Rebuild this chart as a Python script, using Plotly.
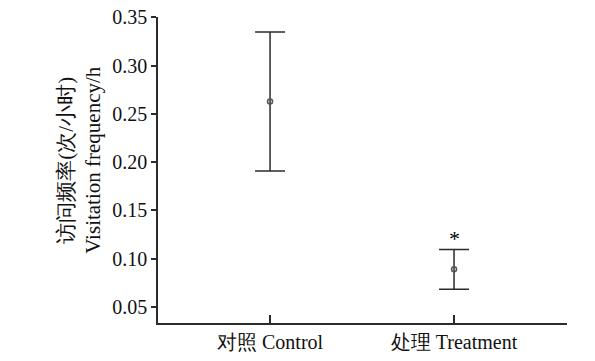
import plotly.graph_objects as go

categories = ["对照 Control", "处理 Treatment"]
means = [0.263, 0.089]
errors = [0.072, 0.0205]
sig_labels = ["", "*"]
y_ticks = [0.05, 0.10, 0.15, 0.20, 0.25, 0.30, 0.35]
y_tick_text = ["0.05", "0.10", "0.15", "0.20", "0.25", "0.30", "0.35"]

font_family = "Liberation Serif"
ink = "#2b2b2b"

x_idx = list(range(len(categories)))

fig = go.Figure()
fig.add_trace(go.Scatter(
    x=x_idx, y=means, mode="markers",
    marker=dict(symbol="circle-open", size=5, color="#555555", line=dict(width=1.5)),
    error_y=dict(type="data", array=errors, visible=True, width=15, thickness=1.5, color=ink),
    showlegend=False, hoverinfo="skip",
))

for i, lab in enumerate(sig_labels):
    if lab:
        fig.add_annotation(x=x_idx[i], y=means[i] + errors[i], text=lab, showarrow=False,
                           yanchor="bottom", yshift=-3, xref="x", yref="y",
                           font=dict(family=font_family, size=22, color="#000"))

fig.add_annotation(xref="paper", yref="paper", x=-0.191, y=0.533, xanchor="center", yanchor="middle",
                   textangle=-90, showarrow=False,
                   text="访问频率(次/小时)<br>Visitation frequency/h",
                   font=dict(family=font_family, size=21, color="#111"))

fig.update_layout(
    width=595, height=361,
    margin=dict(l=158, r=28, t=17, b=38, autoexpand=False),
    plot_bgcolor="white", paper_bgcolor="white",
    font=dict(family=font_family, size=20, color="#111"),
)
fig.update_xaxes(
    range=[-0.609, 1.614], tickmode="array", tickvals=x_idx, ticktext=categories,
    showline=True, linecolor=ink, linewidth=1.5, ticks="inside", ticklen=8, tickwidth=1.5,
    tickcolor=ink, showgrid=False, zeroline=False, mirror=False, automargin=False,
    ticklabeloverflow="allow",
)
fig.update_yaxes(
    range=[0.0334, 0.3505], tickmode="array", tickvals=y_ticks, ticktext=y_tick_text,
    showline=True, linecolor=ink, linewidth=1.5, ticks="outside", ticklen=5, tickwidth=1.5,
    tickcolor=ink, showgrid=False, zeroline=False, automargin=False,
    ticklabeloverflow="allow",
)

fig.write_html("out.html", config={"displayModeBar": False},
               post_script="document.body.style.margin='0';")
